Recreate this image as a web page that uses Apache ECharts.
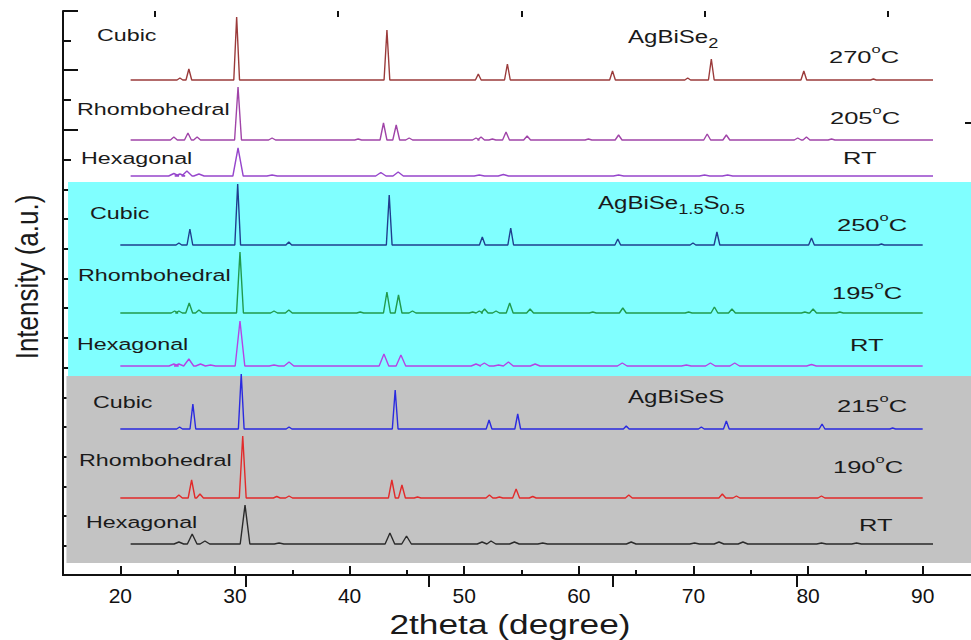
<!DOCTYPE html>
<html><head><meta charset="utf-8">
<script src="https://cdn.jsdelivr.net/npm/echarts@6/dist/echarts.min.js"></script>
<style>html,body{margin:0;padding:0;background:#fff}#c{width:971px;height:640px}</style>
</head><body><div id="c"></div>
<script>
// ---- axis ticks ----
const xMajorTicks = [20, 30, 40, 50, 60, 70, 80, 90];
const xMinorTicks = [25, 35, 45, 55, 65, 75, 85];
const topMajorTicks = [30.96, 46.95, 62.94, 79.02];
const topMinorTicks = [23.01, 39.0, 54.98, 70.97, 86.95];
const yMajorTicks = [29, 88, 148, 207, 267, 326, 385, 445, 505, 564];
const yMinorTicks = [59, 118, 177, 237, 296, 356, 415, 475, 534];
const yRightTicks = [112, 225, 338, 452];

// ---- traces (2theta in degree, intensity in a.u.) ----
const traceNames = ['AgBiSe2 270C', 'AgBiSe2 205C', 'AgBiSe2 RT',
  'AgBiSe1.5S0.5 250C', 'AgBiSe1.5S0.5 195C', 'AgBiSe1.5S0.5 RT',
  'AgBiSeS 215C', 'AgBiSeS 190C', 'AgBiSeS RT'];
const traceOffsets = [495, 435, 399, 330, 262, 209, 146, 77, 31];
const traceStart = [20.9, 20.9, 20.9, 20, 20, 20, 20, 20, 20.9];
const traceEnd = [90.9, 90.9, 90.9, 90, 90, 90, 90, 90, 90.9];

const se2CubicPos = [25.2, 25.98, 30.15, 43.26, 51.23, 53.77, 62.94, 69.5, 71.56, 79.63, 85.7];
const se2CubicInt = [2, 11, 63, 50, 6, 16, 9, 2, 21, 9, 1];
const se2RhomboPos = [24.67, 25.9, 26.7, 30.27, 33.24, 40.75, 42.96, 44.07, 45.2, 51.03, 51.47, 52.46, 53.65, 55.49, 60.84, 63.47, 71.2, 72.87, 79.1, 79.86, 82.05];
const se2RhomboInt = [3, 7, 3, 53, 2, 1, 17, 15, 2, 2, 3, 1, 8, 4, 1, 5, 6, 5, 2, 3, 1];
const se2HexPos = [24.67, 25.2, 25.81, 26.86, 30.27, 33.24, 42.73, 44.24, 51.32, 53.42, 63.47, 70.97, 72.98];
const se2HexInt = [2.5, 2, 5, 2, 28, 1, 3.5, 4, 1, 1.5, 1, 1, 1];

const mixCubicPos = [25.11, 26.07, 30.24, 34.7, 43.46, 51.58, 54.06, 63.4, 69.96, 72.05, 80.3, 86.4];
const mixCubicInt = [2, 16, 61, 3, 50, 8, 17, 6, 2, 13, 7, 1];
const mixRhomboPos = [24.74, 25.11, 26.01, 26.86, 30.44, 33.41, 34.7, 40.93, 43.26, 44.27, 45.49, 50.74, 51.32, 51.78, 52.78, 53.97, 55.75, 61.22, 63.84, 69.58, 71.83, 73.36, 79.72, 80.44, 82.77];
const mixRhomboInt = [2, 2, 10, 3, 61, 2, 3, 1, 21, 18, 2, 1, 2, 4, 2, 10, 4, 1, 5, 1, 6, 4, 1, 4, 1];
const mixHexPos = [24.67, 25.11, 25.98, 27.0, 27.88, 30.44, 33.41, 34.72, 43.0, 44.48, 51.03, 51.76, 53.0, 53.86, 56.19, 63.79, 69.38, 71.48, 73.6, 80.3];
const mixHexInt = [2, 2, 7, 2, 1, 45, 1, 4, 12, 11, 2, 3, 1, 4, 2, 3, 1, 3, 3, 1.5];

const sesCubicPos = [25.17, 26.33, 30.55, 34.72, 43.98, 52.17, 54.67, 64.14, 70.69, 72.87, 81.22, 87.38];
const sesCubicInt = [2, 25, 55, 2, 39, 9, 15, 3, 2, 8, 5, 1];
const sesRhomboPos = [25.11, 26.22, 26.95, 30.68, 33.65, 34.72, 43.69, 44.57, 45.93, 52.2, 53.07, 54.53, 55.98, 64.36, 72.52, 73.75, 81.17];
const sesRhomboInt = [3, 18, 4, 62, 1.5, 2, 18, 13, 1, 3, 1, 9, 1.5, 3, 4, 2, 2];
const sesHexPos = [25.11, 26.27, 27.38, 30.88, 33.85, 43.52, 44.97, 51.56, 52.34, 54.38, 56.85, 64.57, 70.1, 72.23, 74.32, 81.17, 84.23];
const sesHexInt = [2, 10, 3, 39, 1, 11, 8, 2, 3, 2, 1, 2, 1, 2, 2, 1, 1];

const tracePos = [se2CubicPos, se2RhomboPos, se2HexPos, mixCubicPos, mixRhomboPos, mixHexPos, sesCubicPos, sesRhomboPos, sesHexPos];
const traceInt = [se2CubicInt, se2RhomboInt, se2HexInt, mixCubicInt, mixRhomboInt, mixHexInt, sesCubicInt, sesRhomboInt, sesHexInt];

// ---- styles ----
const traceColors = ['#9b3b3b', '#a044a8', '#9646cc', '#1f3f8f', '#219a4c', '#b444e4', '#2a2ae0', '#e22a2a', '#2a2a2a'];
const peakHalfWidth = [0.25, 0.3, 0.45, 0.25, 0.3, 0.42, 0.25, 0.3, 0.42];

function buildTrace(i) {
  const pts = [[traceStart[i], traceOffsets[i]]];
  const pos = tracePos[i], val = traceInt[i], w = peakHalfWidth[i];
  for (let k = 0; k < pos.length; k++) {
    pts.push([pos[k] - w, traceOffsets[i]]);
    pts.push([pos[k], traceOffsets[i] + val[k]]);
    pts.push([pos[k] + w, traceOffsets[i]]);
  }
  pts.push([traceEnd[i], traceOffsets[i]]);
  return pts;
}

const series = traceNames.map((n, i) => ({
  name: n, type: 'line', data: buildTrace(i), showSymbol: false, symbol: 'none',
  lineStyle: { color: traceColors[i], width: 1.4 }, z: 3, silent: true
}));
series.unshift({
  name: 'bands', type: 'line', data: [], z: 1, silent: true,
  markArea: {
    silent: true,
    data: [
      [{ coord: [15.44, 199], itemStyle: { color: '#80ffff', opacity: 1 } }, { coord: [95, 393] }],
      [{ coord: [15.3, 12], itemStyle: { color: '#c3c3c3', opacity: 1 } }, { coord: [95, 199] }]
    ]
  }
});

const FONT = 'Liberation Sans, Arial, sans-serif';
const TXT = '#1a1a1a';
function label(text, x, y, sx, size) {
  return {
    type: 'text', x: x, y: y, scaleX: sx, z: 10, silent: true,
    style: {
      text: text, fill: TXT, fontFamily: FONT, fontSize: size,
      textAlign: 'left', align: 'left', textVerticalAlign: 'middle', verticalAlign: 'middle',
      rich: {
        n: { fontFamily: FONT, fontSize: size, lineHeight: 26, verticalAlign: 'middle', fill: TXT, color: TXT },
        sup: { fontFamily: FONT, fontSize: 11, lineHeight: 12, verticalAlign: 'top', fill: TXT, color: TXT },
        sub: { fontFamily: FONT, fontSize: 14, lineHeight: 10, verticalAlign: 'bottom', fill: TXT, color: TXT }
      }
    }
  };
}

const graphics = [
  label('{n|Cubic}', 97, 35, 1.37, 17),
  label('{n|Rhombohedral}', 77, 109, 1.37, 17),
  label('{n|Hexagonal}', 81, 158, 1.37, 17),
  label('{n|AgBiSe}{sub|2}', 628, 37, 1.3, 18.5),
  label('{n|270}{sup|o}{n|C}', 829, 57, 1.5, 17),
  label('{n|205}{sup|o}{n|C}', 830, 118, 1.5, 17),
  label('{n|RT}', 843, 158, 1.5, 17),

  label('{n|Cubic}', 90, 213, 1.37, 17),
  label('{n|Rhombohedral}', 78, 275, 1.37, 17),
  label('{n|Hexagonal}', 77, 344, 1.37, 17),
  label('{n|AgBiSe}{sub|1.5}{n|S}{sub|0.5}', 598, 203, 1.3, 18.5),
  label('{n|250}{sup|o}{n|C}', 837, 225, 1.5, 17),
  label('{n|195}{sup|o}{n|C}', 832, 293, 1.5, 17),
  label('{n|RT}', 850, 345, 1.5, 17),

  label('{n|Cubic}', 93, 402, 1.37, 17),
  label('{n|Rhombohedral}', 79, 460, 1.37, 17),
  label('{n|Hexagonal}', 86, 522, 1.37, 17),
  label('{n|AgBiSeS}', 628, 397, 1.3, 18.5),
  label('{n|215}{sup|o}{n|C}', 837, 406, 1.5, 17),
  label('{n|190}{sup|o}{n|C}', 833, 467, 1.5, 17),
  label('{n|RT}', 859, 525, 1.5, 17),

  { type: 'text', x: 27, y: 277, rotation: Math.PI / 2, scaleY: 1.2, z: 10, silent: true,
    style: { text: 'Intensity (a.u.)', fill: TXT, fontFamily: FONT, fontSize: 26,
      textAlign: 'center', align: 'center', textVerticalAlign: 'middle', verticalAlign: 'middle' } },
  { type: 'text', x: 510, y: 624, scaleX: 1.26, z: 10, silent: true,
    style: { text: '2theta (degree)', fill: TXT, fontFamily: FONT, fontSize: 28,
      textAlign: 'center', align: 'center', textVerticalAlign: 'middle', verticalAlign: 'middle' } }
];

const axisLine = { show: true, lineStyle: { color: '#111', width: 2 } };
function xAx(pos, ticks, len, showLine, labels) {
  return {
    type: 'value', position: pos, min: 15, max: 95, splitLine: { show: false },
    axisLine: showLine ? axisLine : { show: false },
    axisTick: { show: true, inside: true, length: len, customValues: ticks, lineStyle: { color: '#111', width: 2 } },
    axisLabel: labels ? { show: true, customValues: ticks, fontSize: 21, fontFamily: FONT, color: '#111', margin: 10 } : { show: false }
  };
}
function yAx(pos, ticks, len, showLine) {
  return {
    type: 'value', position: pos, min: 0, max: 564, splitLine: { show: false },
    axisLine: showLine ? axisLine : { show: false },
    axisTick: { show: true, inside: true, length: len, customValues: ticks, lineStyle: { color: '#111', width: 2 } },
    axisLabel: { show: false }
  };
}

const chart = echarts.init(document.getElementById('c'), null, { renderer: 'svg', width: 971, height: 640 });
chart.setOption({
  animation: false,
  backgroundColor: '#ffffff',
  grid: { left: 63, top: 11, width: 917, height: 564, containLabel: false, outerBoundsMode: 'none' },
  xAxis: [
    xAx('bottom', xMajorTicks, 9, true, true),
    xAx('bottom', xMinorTicks, 5, false, false),
    xAx('top', topMajorTicks, 12, true, false),
    xAx('top', topMinorTicks, 6, false, false)
  ],
  yAxis: [
    yAx('left', yMajorTicks, 15, true),
    yAx('left', yMinorTicks, 8, false),
    yAx('right', yRightTicks, 15, true)
  ],
  series: series,
  graphic: graphics
});
</script>
</body></html>
